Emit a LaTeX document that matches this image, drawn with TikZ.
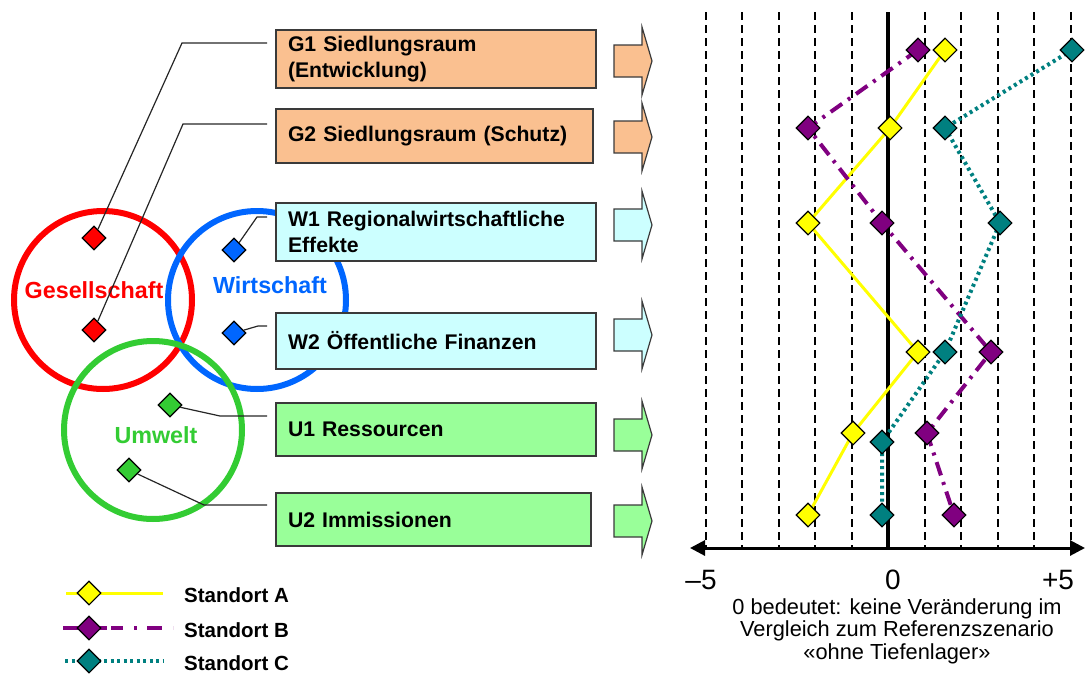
\documentclass[tikz,border=0pt]{standalone}
\usepackage{fontspec}
\setmainfont{Liberation Sans}
\usetikzlibrary{shapes.geometric,arrows.meta}
\definecolor{gfill}{HTML}{FAC090}
\definecolor{wfill}{HTML}{CCFFFF}
\definecolor{ufill}{HTML}{99FF99}
\definecolor{cred}{HTML}{FF0000}
\definecolor{cblue}{HTML}{0066FF}
\definecolor{cgreen}{HTML}{33CC33}
\definecolor{syel}{HTML}{FFFF00}
\definecolor{spur}{HTML}{800080}
\definecolor{steal}{HTML}{008080}
\definecolor{edge}{HTML}{3A3A3A}
\begin{document}
\begin{tikzpicture}[x=1pt,y=-1pt,
  ring/.style={line width=6pt},
  dm/.style={shape=diamond, draw=black, line width=1.1pt, inner sep=0pt, minimum width=24pt, minimum height=24pt},
  leader/.style={draw=black!85, line width=1.2pt},
  cbox/.style={draw=edge, line width=1.3pt, inner sep=0pt, minimum width=320pt, text width=296pt, align=left, font=\fontsize{21.2}{26}\selectfont\bfseries},
  blk/.style={draw=edge, line width=1.2pt, line join=miter},
  circlab/.style={font=\fontsize{23.3}{27}\selectfont\bfseries, anchor=base, inner sep=0pt},
  vgrid/.style={draw=black, line width=2pt, dash pattern=on 8pt off 5pt},
  lineA/.style={draw=syel, line width=3pt},
  lineB/.style={draw=spur, line width=4pt, dash pattern=on 14pt off 7pt on 3pt off 7pt},
  lineC/.style={draw=steal, line width=4pt, dash pattern=on 3pt off 3.5pt},
  legtext/.style={anchor=west, inner sep=0pt, font=\fontsize{20.5}{24}\selectfont\bfseries},
  axlab/.style={inner sep=0pt, font=\fontsize{28}{32}\selectfont}
]
\useasboundingbox (0,0) rectangle (1088,680);

% ---------- circles ----------
\draw[ring, cred]   (103,300) circle (89);
\draw[ring, cblue]  (257,300) circle (89);
\draw[ring, cgreen] (153,430) circle (89);

\node[circlab, text=cred]   (lges) at (94,298)  {Gesellschaft};
\node[circlab, text=cblue]  (lwir) at (270,293) {Wirtschaft};
\node[circlab, text=cgreen] (lumw) at (156,443) {Umwelt};

% ---------- small diamonds ----------
\node[dm, fill=cred]   (rd1) at (94,238) {};
\node[dm, fill=cred]   (rd2) at (94,330) {};
\node[dm, fill=cblue]  (bd1) at (234,250) {};
\node[dm, fill=cblue]  (bd2) at (234,333) {};
\node[dm, fill=cgreen] (gd1) at (170,405) {};
\node[dm, fill=cgreen] (gd2) at (129,470) {};

% ---------- leader lines ----------
\coordinate (k1a) at (182,43);  \coordinate (k1b) at (267,43);
\coordinate (k2a) at (183,124); \coordinate (k2b) at (267,124);
\coordinate (k3a) at (257,217); \coordinate (k3b) at (267,217);
\coordinate (k4a) at (258,326); \coordinate (k4b) at (267,326);
\coordinate (k5a) at (220,416); \coordinate (k5b) at (267,416);
\coordinate (k6a) at (204,505); \coordinate (k6b) at (267,505);
\draw[leader] (rd1) -- (k1a) -- (k1b);
\draw[leader] (rd2) -- (k2a) -- (k2b);
\draw[leader] (bd1) -- (k3a) -- (k3b);
\draw[leader] (bd2) -- (k4a) -- (k4b);
\draw[leader] (gd1) -- (k5a) -- (k5b);
\draw[leader] (gd2) -- (k6a) -- (k6b);

% ---------- boxes ----------
\node[cbox, fill=gfill, minimum height=58pt] (g1) at (436,59)  {G1 Siedlungsraum\\(Entwicklung)};
\node[cbox, fill=gfill, minimum height=54pt, minimum width=317pt, text width=293pt] (g2) at (434.5,136) {G2 Siedlungsraum (Schutz)};
\node[cbox, fill=wfill, minimum height=58pt] (w1) at (436,232) {W1 Regionalwirtschaftliche\\Effekte};
\node[cbox, fill=wfill, minimum height=56pt] (w2) at (436,341) {W2 Öffentliche Finanzen};
\node[cbox, fill=ufill, minimum height=53pt] (u1) at (436,429.5) {U1 Ressourcen};
\node[cbox, fill=ufill, minimum height=53pt, minimum width=315pt, text width=291pt] (u2) at (433.5,519.5) {U2 Immissionen};

% ---------- block arrows ----------
\foreach \yy/\cc in {61/gfill,137/gfill,225/wfill,335/wfill,435/ufill,521/ufill}{
  \draw[blk, fill=\cc, shift={(614,\yy)}] (0,-16) -- (28,-16) -- (28,-34) -- (38,0) -- (28,34) -- (28,16) -- (0,16) -- cycle;
}

% ---------- chart grid ----------
\foreach \k in {-5,-4,-3,-2,-1,1,2,3,4,5}{
  \draw[vgrid] ({888+36.5*\k},12) -- ({888+36.5*\k},548);
}
\draw[line width=4pt] (888,12) -- (888,548);
\coordinate (axl) at (690,548);
\coordinate (axr) at (1085,548);
\draw[line width=3pt, {Triangle[length=15pt,width=15pt]}-{Triangle[length=15pt,width=15pt]}] (axl) -- (axr);

\node[axlab] (tm5) at (701,580) {–5};
\node[axlab] (t0)  at (893,580) {0};
\node[axlab] (tp5) at (1058,580) {+5};

\node[align=center, inner sep=0pt, font=\fontsize{21.8}{22.5}\selectfont] (cap) at (897,631)
  {0 bedeutet: keine Veränderung im\\Vergleich zum Referenzszenario\\«ohne Tiefenlager»};

% ---------- data ----------
\coordinate (a1) at (945,50);  \coordinate (a2) at (890,128); \coordinate (a3) at (808,223);
\coordinate (a4) at (918,352); \coordinate (a5) at (853,433); \coordinate (a6) at (808,515);
\coordinate (b1) at (918,50);  \coordinate (b2) at (808,128); \coordinate (b3) at (882,223);
\coordinate (b4) at (991,352); \coordinate (b5) at (927,433); \coordinate (b6) at (954,515);
\coordinate (c1) at (1072,50); \coordinate (c2) at (945,128); \coordinate (c3) at (1000,223);
\coordinate (c4) at (945,352); \coordinate (c5) at (882,442); \coordinate (c6) at (882,515);

\draw[lineA] (a1) -- (a2) -- (a3) -- (a4) -- (a5) -- (a6);
\draw[lineB] (b1) -- (b2) -- (b3) -- (b4) -- (b5) -- (b6);
\draw[lineC] (c1) -- (c2) -- (c3) -- (c4) -- (c5) -- (c6);

\foreach \i in {1,...,6}{
  \node[dm, fill=syel]  (ad\i) at (a\i) {};
  \node[dm, fill=spur]  (bd\i) at (b\i) {};
  \node[dm, fill=steal] (cd\i) at (c\i) {};
}

% ---------- legend ----------
\coordinate (la1) at (66,593);  \coordinate (la2) at (163,593);
\coordinate (lb1) at (63,628);  \coordinate (lb2) at (173,628);
\coordinate (lc1) at (65,661);  \coordinate (lc2) at (163,661);
\draw[lineA] (la1) -- (la2);
\draw[draw=spur, line width=4pt, dash pattern=on 44pt off 4pt on 12pt off 11pt on 3pt off 10pt on 15pt off 11pt on 3pt off 10pt] (lb1) -- (lb2);
\draw[lineC] (lc1) -- (lc2);
\node[dm, fill=syel]  (lda) at (89,593) {};
\node[dm, fill=spur]  (ldb) at (89,628) {};
\node[dm, fill=steal] (ldc) at (89,661) {};
\node[legtext] (lta) at (184,595) {Standort A};
\node[legtext] (ltb) at (184,630) {Standort B};
\node[legtext] (ltc) at (184,663) {Standort C};
\end{tikzpicture}
\end{document}
